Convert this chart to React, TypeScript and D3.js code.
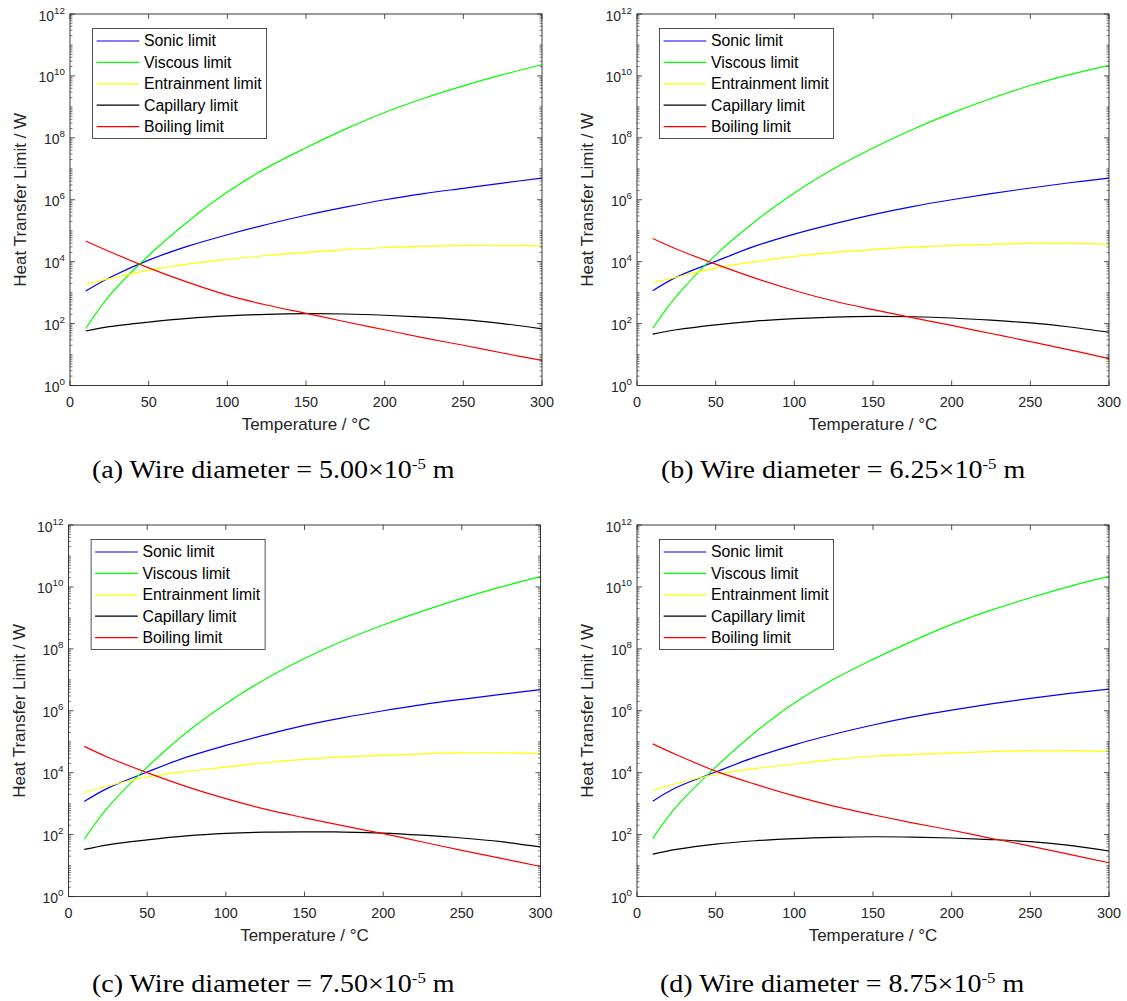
import * as d3 from 'd3';

const temps = [10, 25, 50, 75, 100, 125, 150, 175, 200, 225, 250, 275, 300];

const seriesNames = ['Sonic limit', 'Viscous limit', 'Entrainment limit', 'Capillary limit', 'Boiling limit'];
const seriesColors = ['#0000ff', '#00ff00', '#ffff00', '#000000', '#ff0000'];

// all limits given as log10 of the heat transfer limit in W
// (a) wire diameter 5.00e-5 m
const sonicA = [3.05, 3.48, 4.05, 4.5, 4.87, 5.2, 5.5, 5.76, 6.0, 6.2, 6.37, 6.54, 6.7];
const viscousA = [1.84, 2.9, 4.2, 5.3, 6.25, 7.03, 7.68, 8.28, 8.82, 9.28, 9.68, 10.04, 10.36];
const entrainA = [3.27, 3.45, 3.72, 3.92, 4.07, 4.2, 4.3, 4.39, 4.45, 4.5, 4.52, 4.52, 4.51];
const capillaryA = [1.76, 1.9, 2.05, 2.17, 2.25, 2.3, 2.32, 2.31, 2.27, 2.21, 2.13, 2.0, 1.83];
const boilingA = [4.67, 4.33, 3.8, 3.33, 2.92, 2.6, 2.33, 2.06, 1.8, 1.54, 1.3, 1.05, 0.81];

// (b) 6.25e-5 m
const sonicB = [3.06, 3.5, 4.01, 4.5, 4.89, 5.22, 5.52, 5.78, 6.0, 6.2, 6.38, 6.55, 6.7];
const viscousB = [1.85, 2.88, 4.22, 5.3, 6.22, 7.0, 7.67, 8.27, 8.8, 9.27, 9.69, 10.04, 10.34];
const entrainB = [3.31, 3.5, 3.79, 4.0, 4.17, 4.3, 4.39, 4.47, 4.52, 4.56, 4.59, 4.59, 4.56];
const capillaryB = [1.66, 1.8, 1.96, 2.08, 2.16, 2.21, 2.23, 2.22, 2.18, 2.11, 2.02, 1.89, 1.72];
const boilingB = [4.75, 4.41, 3.92, 3.47, 3.07, 2.73, 2.45, 2.19, 1.94, 1.68, 1.42, 1.15, 0.87];

// (c) 7.50e-5 m
const sonicC = [3.07, 3.5, 4.02, 4.5, 4.88, 5.22, 5.53, 5.78, 6.0, 6.2, 6.37, 6.53, 6.68];
const viscousC = [1.85, 2.88, 4.18, 5.3, 6.23, 7.02, 7.69, 8.27, 8.77, 9.22, 9.63, 10.0, 10.33];
const entrainC = [3.36, 3.57, 3.86, 4.04, 4.18, 4.32, 4.43, 4.51, 4.56, 4.61, 4.64, 4.64, 4.61];
const capillaryC = [1.52, 1.67, 1.83, 1.96, 2.04, 2.08, 2.09, 2.08, 2.05, 1.98, 1.89, 1.77, 1.6];
const boilingC = [4.85, 4.5, 4.0, 3.55, 3.16, 2.82, 2.54, 2.28, 2.03, 1.76, 1.49, 1.23, 0.97];

// (d) 8.75e-5 m
const sonicD = [3.08, 3.52, 4.02, 4.5, 4.9, 5.24, 5.54, 5.8, 6.02, 6.22, 6.4, 6.56, 6.7];
const viscousD = [1.88, 2.9, 4.18, 5.3, 6.25, 7.02, 7.66, 8.25, 8.79, 9.25, 9.65, 10.02, 10.34];
const entrainD = [3.43, 3.65, 3.94, 4.13, 4.28, 4.42, 4.53, 4.59, 4.63, 4.68, 4.71, 4.71, 4.68];
const capillaryD = [1.37, 1.52, 1.69, 1.8, 1.87, 1.91, 1.93, 1.92, 1.89, 1.84, 1.77, 1.65, 1.47];
const boilingD = [4.93, 4.58, 4.05, 3.63, 3.25, 2.92, 2.64, 2.38, 2.14, 1.88, 1.63, 1.36, 1.09];

const xTicks = [0, 50, 100, 150, 200, 250, 300];
const yTickExps = [0, 2, 4, 6, 8, 10, 12];
const captionLetters = ['(a)', '(b)', '(c)', '(d)'];
const wireDiameters = ['5.00', '6.25', '7.50', '8.75'];

const panels = [
  [sonicA, viscousA, entrainA, capillaryA, boilingA],
  [sonicB, viscousB, entrainB, capillaryB, boilingB],
  [sonicC, viscousC, entrainC, capillaryC, boilingC],
  [sonicD, viscousD, entrainD, capillaryD, boilingD],
];

const PW = 472;
const PH = 371.5;
const layout = [
  { x: 70, y: 14, cx: 92, cy: 478 },
  { x: 637, y: 14, cx: 661, cy: 478 },
  { x: 68.5, y: 525, cx: 92, cy: 992 },
  { x: 637, y: 525, cx: 660, cy: 992 },
];

const axisColor = '#262626';
const sans = '"Liberation Sans", Arial, sans-serif';
const serif = '"Liberation Serif", "Times New Roman", serif';

function Panel({ ox, oy, series }: { ox: number; oy: number; series: number[][] }) {
  const x = d3.scaleLinear().domain([0, 300]).range([0, PW]);
  const y = d3.scaleLog().domain([1, 1e12]).range([PH, 0]);
  const line = d3
    .line<number>()
    .x((_, i) => x(temps[i]))
    .y((d) => y(Math.pow(10, d)))
    .curve(d3.curveCatmullRom.alpha(0.5));

  const minor: number[] = [];
  for (let k = 0; k < 12; k++) {
    for (let m = 1; m <= 9; m++) {
      if (m === 1 && k % 2 === 0) continue;
      minor.push(m * Math.pow(10, k));
    }
  }

  return (
    <g transform={`translate(${ox},${oy})`}>
      {series.map((vals, i) => (
        <path key={i} d={line(vals) || ''} fill="none" stroke={seriesColors[i]} strokeWidth={1.2} />
      ))}
      <rect x={0} y={0} width={PW} height={PH} fill="none" stroke={axisColor} strokeWidth={0.9} />
      {xTicks.map((t) => (
        <g key={t}>
          <line x1={x(t)} x2={x(t)} y1={PH} y2={PH - 5} stroke={axisColor} strokeWidth={0.8} />
          <line x1={x(t)} x2={x(t)} y1={0} y2={5} stroke={axisColor} strokeWidth={0.8} />
          <text x={x(t)} y={PH + 21.5} textAnchor="middle" fontSize={14.4} fill={axisColor} fontFamily={sans}>
            {t}
          </text>
        </g>
      ))}
      {yTickExps.map((e) => {
        const yy = y(Math.pow(10, e));
        return (
          <g key={e}>
            <line x1={0} x2={5} y1={yy} y2={yy} stroke={axisColor} strokeWidth={0.8} />
            <line x1={PW} x2={PW - 5} y1={yy} y2={yy} stroke={axisColor} strokeWidth={0.8} />
            <text x={-5} y={yy + 6.5} textAnchor="end" fontSize={14} fill={axisColor} fontFamily={sans}>
              10
              <tspan fontSize={9.8} dy={-7}>{e}</tspan>
            </text>
          </g>
        );
      })}
      {minor.map((v, i) => {
        const yy = y(v);
        return (
          <g key={i}>
            <line x1={0} x2={2.5} y1={yy} y2={yy} stroke={axisColor} strokeWidth={0.6} />
            <line x1={PW} x2={PW - 2.5} y1={yy} y2={yy} stroke={axisColor} strokeWidth={0.6} />
          </g>
        );
      })}
      <text x={PW / 2} y={PH + 44} textAnchor="middle" fontSize={17} fill={axisColor} fontFamily={sans}>
        Temperature / °C
      </text>
      <text
        transform={`translate(-44,${PH / 2}) rotate(-90)`}
        textAnchor="middle"
        fontSize={17}
        fill={axisColor}
        fontFamily={sans}
      >
        Heat Transfer Limit / W
      </text>
      <g transform="translate(22.6,14.5)">
        <rect x={0} y={0} width={174} height={110} fill="#fff" stroke={axisColor} strokeWidth={0.8} />
        {seriesNames.map((name, i) => {
          const ry = 12.5 + 21.4 * i;
          return (
            <g key={name}>
              <line x1={4} x2={46.7} y1={ry} y2={ry} stroke={seriesColors[i]} strokeWidth={1.2} />
              <text x={51.4} y={ry + 5.4} fontSize={15.8} fill="#000" fontFamily={sans}>
                {name}
              </text>
            </g>
          );
        })}
      </g>
    </g>
  );
}

export default function App() {
  return (
    <svg
      width={1127}
      height={1001}
      style={{ position: 'absolute', left: 0, top: 0, background: '#fff' }}
    >
      {panels.map((series, i) => (
        <Panel key={i} ox={layout[i].x} oy={layout[i].y} series={series} />
      ))}
      {layout.map((p, i) => (
        <text
          key={i}
          transform={`translate(${p.cx},${p.cy}) scale(1.12,1)`}
          fontSize={25}
          fontFamily={serif}
          fill="#000"
        >
          {`${captionLetters[i]} Wire diameter = ${wireDiameters[i]}×10`}
          <tspan fontSize={15} dy={-9.5}>-5</tspan>
          <tspan dy={9.5}> m</tspan>
        </text>
      ))}
    </svg>
  );
}
